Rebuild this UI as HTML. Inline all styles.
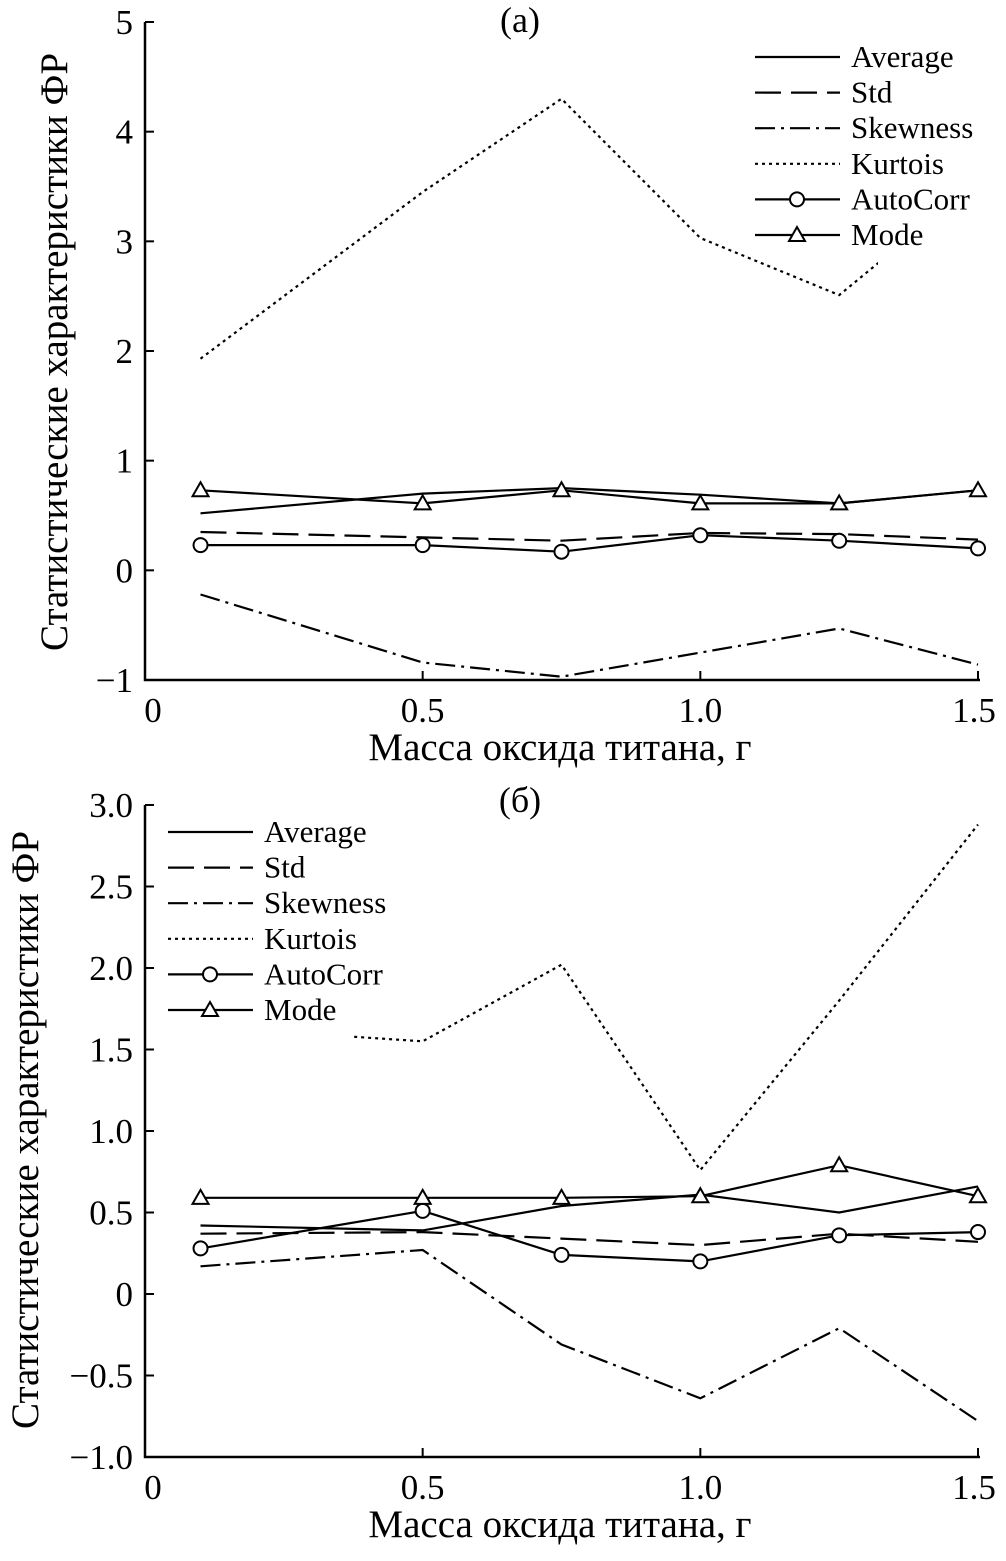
<!DOCTYPE html>
<html><head><meta charset="utf-8"><style>
html,body{margin:0;padding:0;background:#fff;}
svg{display:block;font-family:"Liberation Serif","Noto Serif CJK SC",serif;}
</style></head><body>
<svg id="chart" width="1006" height="1561" viewBox="0 0 1006 1561" xmlns="http://www.w3.org/2000/svg"></svg>
<script>
const xValues=[0.1,0.5,0.75,1.0,1.25,1.5];
const xTicks=[0,0.5,1.0,1.5];
const xTickLabels=["0","0.5","1.0","1.5"];
const aYTicks=[-1,0,1,2,3,4,5];
const aYTickLabels=["\u22121","0","1","2","3","4","5"];
const bYTicks=[-1,-0.5,0,0.5,1,1.5,2,2.5,3];
const bYTickLabels=["\u22121.0","\u22120.5","0","0.5","1.0","1.5","2.0","2.5","3.0"];
const aAverage=[0.52,0.70,0.75,0.69,0.61,0.73];
const aStd=[0.35,0.30,0.27,0.34,0.33,0.28];
const aSkewness=[-0.22,-0.84,-0.97,-0.75,-0.53,-0.86];
const aKurtois=[1.93,3.45,4.30,3.03,2.51,3.55];
const aAutoCorr=[0.23,0.23,0.17,0.32,0.27,0.20];
const aMode=[0.73,0.61,0.73,0.61,0.61,0.73];
const bAverage=[0.42,0.39,0.54,0.61,0.50,0.66];
const bStd=[0.37,0.38,0.34,0.30,0.37,0.32];
const bSkewness=[0.17,0.27,-0.31,-0.64,-0.21,-0.78];
const bKurtois=[1.64,1.55,2.02,0.76,1.80,2.88];
const bAutoCorr=[0.28,0.51,0.24,0.20,0.36,0.38];
const bMode=[0.59,0.59,0.59,0.60,0.79,0.60];
const legendNames=["Average","Std","Skewness","Kurtois","AutoCorr","Mode"];

const NS="http://www.w3.org/2000/svg";
const svg=document.getElementById('chart');
function mk(tag,attrs,parent,text){const e=document.createElementNS(NS,tag);for(const k in attrs)e.setAttribute(k,attrs[k]);if(text!==undefined)e.textContent=text;(parent||svg).appendChild(e);return e;}
const X0=145,X1=978;
function xs(v){return X0+(v-0)/(1.5-0)*(X1-X0);}
const styles={Average:"",Std:"26,10",Skewness:"20,6,3,6",Kurtois:"3,4",AutoCorr:"",Mode:""};

function panel(p){
  const g=mk('g',{});
  
  
  const ys=v=>p.yTop+(p.yMax-v)/(p.yMax-p.yMin)*(p.yBot-p.yTop);
  legendNames.forEach((n,si)=>{
    const vals=p.series[si];
    const d=vals.map((v,i)=>(i?'L':'M')+xs(xValues[i]).toFixed(1)+','+ys(v).toFixed(1)).join(' ');
    const pl=mk('path',{d,fill:'none',stroke:'#000','stroke-width':2.2,'stroke-dasharray':styles[n]},g);
    
  });
  const lg=mk('g',{},g);
  
  mk('rect',{x:p.lgX-6,y:p.lgY-22,width:p.lgW,height:p.lgH,fill:'#fff'},lg);
  if(p.extraMask)mk('rect',{x:p.extraMask[0],y:p.extraMask[1],width:p.extraMask[2],height:p.extraMask[3],fill:'#fff'},lg);
  legendNames.forEach((n,i)=>{
    const y=p.lgY+i*35.6;
    const e=mk('g',{},lg);
    
    mk('line',{x1:p.lgX,x2:p.lgX+85,y1:y,y2:y,stroke:'#000','stroke-width':2.2,'stroke-dasharray':styles[n]},e);
    if(n==='AutoCorr')mk('circle',{cx:p.lgX+42,cy:y,r:7,fill:'#fff',stroke:'#000','stroke-width':2},e);
    if(n==='Mode')mk('path',{d:`M${p.lgX+42},${y-8} L${p.lgX+50},${y+6} L${p.lgX+34},${y+6} Z`,fill:'#fff',stroke:'#000','stroke-width':2},e);
    mk('text',{x:p.lgX+96,y:y+10,'font-size':31},e,n);
  });
  p.series[4].forEach((v,i)=>{
    const c=mk('circle',{cx:xs(xValues[i]),cy:ys(v),r:7,fill:'#fff',stroke:'#000','stroke-width':2},g);
    
  });
  p.series[5].forEach((v,i)=>{
    const x=xs(xValues[i]),y=ys(v);
    const t=mk('path',{d:`M${x},${y-8} L${x+8},${y+6} L${x-8},${y+6} Z`,fill:'#fff',stroke:'#000','stroke-width':2},g);
    
  });
  const ax=mk('path',{d:`M${X0},${p.yTop} V${p.yBot} H${X1+2}`,fill:'none',stroke:'#000','stroke-width':2.5},g);
  
  p.yTicks.forEach((t,i)=>{
    const y=ys(t);
    const tk=mk('line',{x1:X0,x2:X0+9,y1:y,y2:y,stroke:'#000','stroke-width':2},g);
    
    const lb=mk('text',{x:X0-12,y:y+12,'font-size':35,'text-anchor':'end'},g,p.yLabels[i]);
    
  });
  xTicks.forEach((t,i)=>{
    const x=xs(t);
    const tk=mk('line',{x1:x,x2:x,y1:p.yBot,y2:p.yBot-9,stroke:'#000','stroke-width':2},g);
    
    const lb=mk('text',{x:i==0?x+8:(i==3?x-4:x),y:p.yBot+42,'font-size':35,'text-anchor':'middle'},g,xTickLabels[i]);
    
  });
  const xt=mk('text',{x:560,y:p.yBot+80,'font-size':39,'text-anchor':'middle'},g,'Масса оксида титана, г');
  
  const yt=mk('text',{x:0,y:0,'font-size':39,'text-anchor':'middle',transform:`translate(${p.ytX},${p.ytY}) rotate(-90)`},g,'Статистические характеристики ФР');
  
  const tt=mk('text',{x:520,y:p.titleY,'font-size':36,'text-anchor':'middle'},g,p.title);
  
}
panel({name:'panel-a',title:'(a)',titleY:32,yTop:22,yBot:680,yMin:-1,yMax:5,yTicks:aYTicks,yLabels:aYTickLabels,
  ytX:67,ytY:352,series:[aAverage,aStd,aSkewness,aKurtois,aAutoCorr,aMode],lgX:755,lgY:57,lgW:260,lgH:212,extraMask:[878,240,130,26]});
panel({name:'panel-b',title:'(б)',titleY:812,yTop:805,yBot:1457,yMin:-1,yMax:3,yTicks:bYTicks,yLabels:bYTickLabels,
  ytX:38,ytY:1130,series:[bAverage,bStd,bSkewness,bKurtois,bAutoCorr,bMode],lgX:168,lgY:832,lgW:190,lgH:230});
</script>
</body></html>
